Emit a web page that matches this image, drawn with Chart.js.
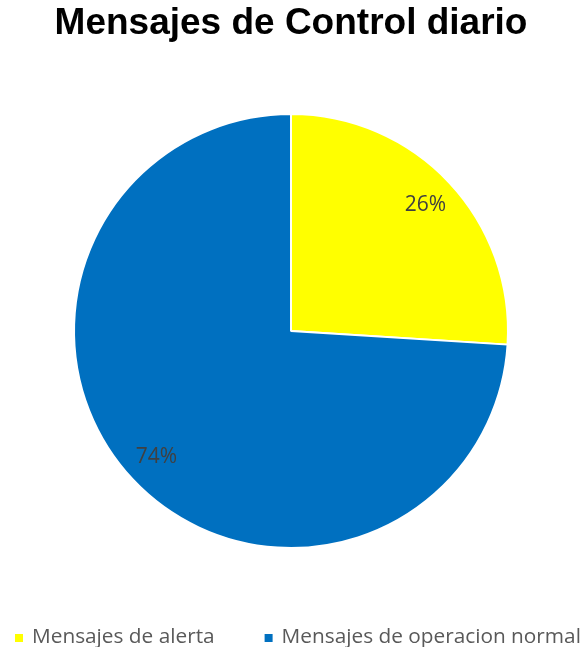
<!DOCTYPE html>
<html>
<head>
<meta charset="utf-8">
<script src="https://cdn.jsdelivr.net/npm/chart.js@4.4.1/dist/chart.umd.min.js"></script>
<style>
    html, body { margin: 0; padding: 0; background: #ffffff; }
    #wrap { width: 584px; height: 647px; }
</style>
</head>
<body>
<div id="wrap"><canvas id="pie" width="584" height="647"></canvas></div>
<script>
// --- DATOS ---
const categorias = ['Mensajes de alerta', 'Mensajes de operacion normal'];
const porcentajes = [26, 74];
const colores = ['#FFFF00', '#0070C0'];

const FUENTE = '"Open Sans", "Noto Sans", sans-serif';

// Etiquetas de porcentaje dentro de cada sector
const etiquetasSector = {
    id: 'etiquetasSector',
    afterDatasetsDraw(chart) {
        const ctx = chart.ctx;
        const meta = chart.getDatasetMeta(0);
        ctx.save();
        ctx.font = '21px ' + FUENTE;
        ctx.fillStyle = '#404040';
        ctx.textAlign = 'center';
        ctx.textBaseline = 'middle';
        meta.data.forEach((arc, i) => {
            const p = arc.getProps(['x', 'y', 'startAngle', 'endAngle', 'outerRadius'], true);
            const mid = (p.startAngle + p.endAngle) / 2;
            const r = p.outerRadius * 0.85;
            ctx.fillText(porcentajes[i] + '%', p.x + Math.cos(mid) * r, p.y + Math.sin(mid) * r);
        });
        ctx.restore();
    }
};

// Leyenda propia en la parte inferior (la nativa parte la línea)
const leyendaInferior = {
    id: 'leyendaInferior',
    afterDraw(chart) {
        const ctx = chart.ctx;
        const y = 638;
        const caja = 8;
        let x = 15;
        ctx.save();
        ctx.font = '20.8px ' + FUENTE;
        ctx.textBaseline = 'middle';
        ctx.textAlign = 'left';
        categorias.forEach((cat, i) => {
            ctx.fillStyle = colores[i];
            ctx.fillRect(x, y - caja / 2, caja, caja);
            x += caja + 9;
            ctx.fillStyle = '#595959';
            ctx.fillText(cat, x, y - 1);
            x += ctx.measureText(cat).width + 50;
        });
        ctx.restore();
    }
};

new Chart(document.getElementById('pie'), {
    type: 'pie',
    data: {
        labels: categorias,
        datasets: [{
            data: porcentajes,
            backgroundColor: colores,
            borderColor: '#ffffff',
            borderWidth: 2
        }]
    },
    options: {
        responsive: false,
        animation: false,
        layout: { padding: { top: 0, bottom: 98, left: 0, right: 2 } },
        plugins: {
            legend: { display: false },
            tooltip: { enabled: false },
            title: {
                display: true,
                text: 'Mensajes de Control diario',
                color: '#000000',
                font: { family: '"Liberation Sans", Arial, sans-serif', size: 37, weight: 'bold', lineHeight: 1.2 },
                padding: { top: 2, bottom: 66.6 }
            }
        }
    },
    plugins: [etiquetasSector, leyendaInferior]
});
</script>
</body>
</html>
